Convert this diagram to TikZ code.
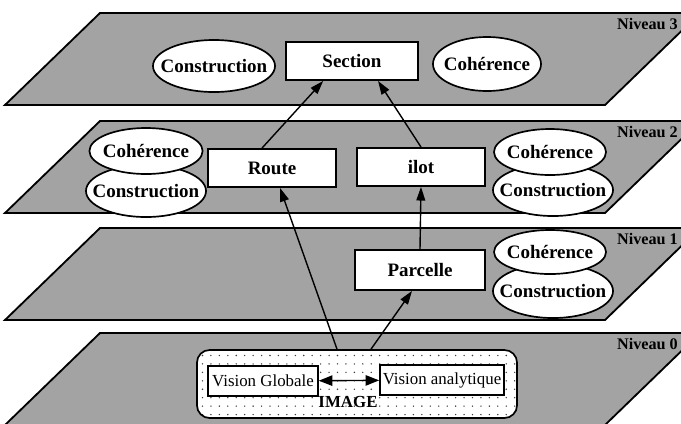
\documentclass[tikz,border=0pt]{standalone}
\usepackage{fontspec}
\setmainfont{Liberation Serif}
\usetikzlibrary{arrows.meta, shapes.geometric, patterns.meta}

\begin{document}
\begin{tikzpicture}[
  x=0.025cm, y=-0.025cm,
  plane/.style={draw=black, line width=1.3pt, fill=gray!72},
  niveau/.style={anchor=east, font=\fontsize{11.5}{13}\selectfont\bfseries, inner sep=0pt},
  concept/.style={draw=black, line width=1.3pt, fill=white, minimum height=0.95cm,
                  font=\fontsize{13.5}{15}\selectfont\bfseries},
  bulle/.style={ellipse, draw=black, line width=1.2pt, fill=white, inner xsep=-10pt, inner ysep=0pt,
                font=\fontsize{13.5}{15}\selectfont\bfseries},
  vision/.style={draw=black, line width=1.1pt, fill=white, minimum height=0.75cm,
                 inner sep=2pt, font=\fontsize{12}{14}\selectfont},
  imgbox/.style={draw=black, line width=1.2pt, rounded corners=9pt,
                 preaction={fill=white}, pattern={Dots[radius=0.55pt, distance=6pt]},
                 pattern color=black!75, minimum width=8cm, minimum height=1.7cm},
  a/.style={-{Triangle[length=3.4mm, width=2.2mm]}, line width=1pt},
  aa/.style={{Triangle[length=3.4mm, width=2.6mm]}-{Triangle[length=3.4mm, width=2.6mm]}, line width=1pt}
]
\useasboundingbox (0,0) rectangle (681,423);
\clip (0,0) rectangle (681,423);

% niveaux
\foreach \t/\lvl in {13/3, 121/2, 228/1, 333/0} {
  \draw[plane] (100,\t) -- (700,\t) -- ++(-95,92) -- ++(-600,0) -- cycle;
  \node[niveau] (niv\lvl) at (678,\t+11) {Niveau \lvl};
}

% niveau 3
\node[bulle, minimum width=3.05cm, minimum height=1.3cm] (constr3) at (214,66) {Construction};
\node[concept, minimum width=3.3cm] (section) at (352,61) {Section};
\node[bulle, minimum width=2.7cm, minimum height=1.35cm] (coher3) at (487,64) {Cohérence};

% niveau 2
\node[bulle, minimum width=3cm, minimum height=1.3cm] (constr2g) at (146,191) {Construction};
\node[bulle, minimum width=2.83cm, minimum height=1.15cm] (coher2g) at (146,151) {Cohérence};
\node[concept, minimum width=3.2cm] (route) at (272,168) {Route};
\node[concept, minimum width=3.2cm] (ilot) at (421,167) {ilot};
\node[bulle, minimum width=3cm, minimum height=1.3cm] (constr2d) at (553,190) {Construction};
\node[bulle, minimum width=2.8cm, minimum height=1.15cm] (coher2d) at (550,152) {Cohérence};

% niveau 1
\node[concept, minimum width=3.25cm, minimum height=1cm] (parcelle) at (420,270) {Parcelle};
\node[bulle, minimum width=3cm, minimum height=1.35cm] (constr1) at (553,291) {Construction};
\node[bulle, minimum width=2.8cm, minimum height=1.1cm] (coher1) at (550,252) {Cohérence};

% niveau 0
\node[imgbox] (image) at (357,384) {};
\node[vision, minimum width=2.75cm] (globale) at (263,381) {Vision Globale};
\node[vision, minimum width=2.9cm] (analytique) at (442,380) {Vision analytique};
\node[font=\fontsize{12}{14}\selectfont\bfseries, inner sep=1pt] (imglbl) at (348,402) {IMAGE};

\draw[aa] (globale) -- (analytique);
\draw[a] ([xshift=-0.5cm]image.north) -- ([xshift=0.2cm]route.south);
\draw[a] ([xshift=0.35cm]image.north) -- ([xshift=-0.2cm]parcelle.south);
\draw[a] (parcelle.north) -- (ilot.south);
\draw[a] ([xshift=-0.25cm]route.north) -- ([xshift=-0.72cm]section.south);
\draw[a] (ilot.north) -- ([xshift=0.65cm]section.south);
\end{tikzpicture}
\end{document}
